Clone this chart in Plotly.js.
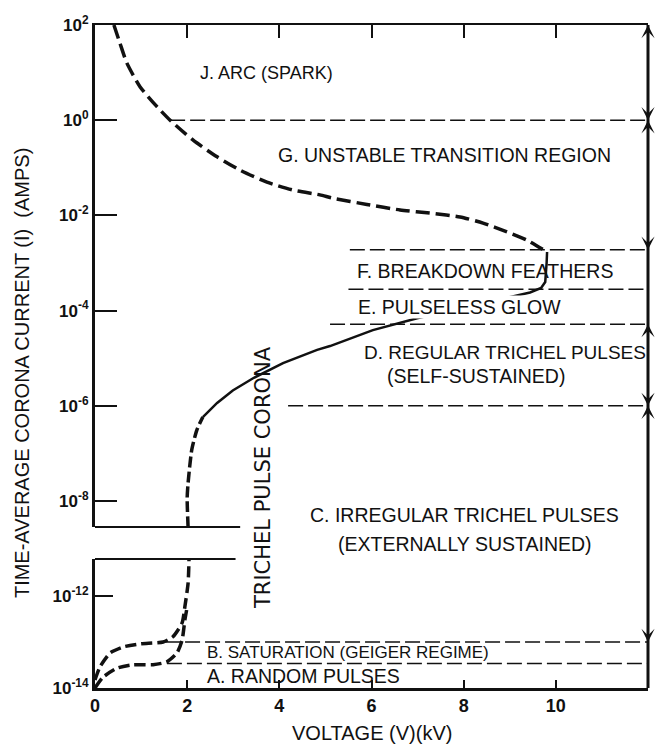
<!DOCTYPE html>
<html>
<head>
<meta charset="utf-8">
<script src="https://cdn.plot.ly/plotly-3.0.1.min.js"></script>
<style>html,body{margin:0;padding:0;background:#fff}#chart{width:658px;height:744px}</style>
</head>
<body>
<div id="chart"></div>
<script>
// ---------- data ----------
// Arc / unstable transition branch (upper dashed curve), kV vs A
const arcV = [0.41, 0.54, 0.69, 0.98, 1.35, 1.63, 2.13, 2.65, 3.15, 3.73, 4.30, 4.88, 5.16, 5.90, 6.62, 7.33, 7.92, 8.42, 8.94, 9.38, 9.81];
const arcI = [100, 42, 16, 5.0, 1.9, 1.0, 0.38, 0.17, 0.089, 0.050, 0.034, 0.027, 0.023, 0.017, 0.013, 0.011, 0.0093, 0.0069, 0.0045, 0.0030, 0.0017];
// Trichel onset rise near 2 kV (dashed, upper panel)
const riseV = [2.02, 2.00, 2.02, 2.10, 2.21, 2.34];
const riseI = [2.8e-9, 1.15e-8, 2.4e-8, 1.2e-7, 3.1e-7, 5.8e-7];
// Trichel / glow / feathers branch (solid)
const glowV = [2.34, 2.65, 2.99, 3.43, 4.08, 4.82, 5.10, 6.03, 6.99, 7.90, 8.72, 9.44, 9.68, 9.77, 9.80, 9.81];
const glowI = [5.8e-7, 1.15e-6, 2.1e-6, 3.8e-6, 7.9e-6, 1.5e-5, 1.8e-5, 3.9e-5, 6.9e-5, 1.1e-4, 1.7e-4, 2.4e-4, 3.0e-4, 4.0e-4, 1.0e-3, 1.7e-3];
// Saturation curve (lower panel, dashed)
const satV = [0.00, 0.11, 0.33, 0.61, 0.98, 1.48, 1.69, 1.89, 1.95, 2.02, 2.04];
const satI = [1.5e-14, 2.9e-14, 5.8e-14, 7.8e-14, 9.1e-14, 1.0e-13, 1.3e-13, 2.6e-13, 5.8e-13, 1.9e-12, 6.3e-12];
// Random pulses curve (lower panel, dashed)
const randV = [0.00, 0.17, 0.48, 0.82, 1.26, 1.56, 1.78, 1.89, 1.95, 2.00];
const randI = [1.0e-14, 1.7e-14, 2.7e-14, 3.2e-14, 3.2e-14, 3.7e-14, 5.8e-14, 1.1e-13, 3.0e-13, 5.8e-13];
// Region boundaries (current, A) and where each dashed boundary line starts (kV)
const upperBounds = [1.0, 1.9e-3, 2.8e-4, 5.2e-5, 1.0e-6];
const upperBoundStart = [1.63, 5.53, 5.50, 5.10, 4.19];
const lowerBounds = [1.0e-13, 3.4e-14];
const lowerBoundStart = [1.52, 1.56];
const vMax = 12;
// Tick values / labels
const xTicks = [0, 2, 4, 6, 8, 10, 12];
const upperTickVals = [1e2, 1e0, 1e-2, 1e-4, 1e-6, 1e-8];
const upperTickText = ['10<sup>2</sup>', '10<sup>0</sup>', '10<sup>-2</sup>', '10<sup>-4</sup>', '10<sup>-6</sup>', '10<sup>-8</sup>'];
const lowerTickVals = [1e-12, 1e-14];
const lowerTickText = ['10<sup>-12</sup>', '10<sup>-14</sup>'];
// Region labels
const regionLabels = ['J. ARC (SPARK)', 'G. UNSTABLE TRANSITION REGION', 'F. BREAKDOWN FEATHERS', 'E. PULSELESS GLOW',
  'D. REGULAR TRICHEL PULSES', '(SELF-SUSTAINED)', 'C. IRREGULAR TRICHEL PULSES', '(EXTERNALLY SUSTAINED)',
  'B. SATURATION (GEIGER REGIME)', 'A. RANDOM PULSES'];
// arrowheads along the right edge: [current, direction(+1 up, -1 down), panel]
const arrowMarks = [[1e2, 1, 'y'], [1e0, -1, 'y'], [1e0, 1, 'y'], [1.9e-3, -1, 'y'], [5.2e-5, 1, 'y'], [1e-6, -1, 'y'], [1e-6, 1, 'y'], [1e-13, -1, 'y2']];

// ---------- traces ----------
const ink = '#111';
const traces = [];
traces.push({x: arcV, y: arcI, xaxis: 'x2', yaxis: 'y', mode: 'lines', line: {color: ink, width: 3.5, dash: '14px,6px', shape: 'spline', smoothing: 0.6}, hoverinfo: 'skip'});
traces.push({x: riseV, y: riseI, xaxis: 'x2', yaxis: 'y', mode: 'lines', line: {color: ink, width: 3.5, dash: '11px,4px', shape: 'spline', smoothing: 0.6}, hoverinfo: 'skip'});
traces.push({x: glowV, y: glowI, xaxis: 'x2', yaxis: 'y', mode: 'lines', line: {color: ink, width: 2.5, shape: 'linear'}, hoverinfo: 'skip'});
traces.push({x: satV, y: satI, xaxis: 'x', yaxis: 'y2', mode: 'lines', line: {color: ink, width: 3.5, dash: '11px,5px', shape: 'spline', smoothing: 0.6}, hoverinfo: 'skip'});
traces.push({x: randV, y: randI, xaxis: 'x', yaxis: 'y2', mode: 'lines', line: {color: ink, width: 3.5, dash: '11px,5px', shape: 'spline', smoothing: 0.6}, hoverinfo: 'skip'});
upperBounds.forEach((b, i) => traces.push({x: [upperBoundStart[i], vMax], y: [b, b], xaxis: 'x2', yaxis: 'y', mode: 'lines', line: {color: ink, width: 1.5, dash: '15px,5px'}, hoverinfo: 'skip'}));
lowerBounds.forEach((b, i) => traces.push({x: [lowerBoundStart[i], vMax], y: [b, b], xaxis: 'x', yaxis: 'y2', mode: 'lines', line: {color: ink, width: 1.5, dash: '15px,5px'}, hoverinfo: 'skip'}));

// ---------- layout ----------
const FONT = 'Liberation Sans, Arial, sans-serif';
const labFont = {family: FONT, size: 19.5, color: ink};
function lab(i, x, y, xref, yref, extra) {
  return Object.assign({text: regionLabels[i], x: x, y: y, xref: xref, yref: yref, xanchor: 'left', yanchor: 'middle', showarrow: false, font: labFont}, extra || {});
}
const annotations = [
  lab(0, 2.24, 1, 'x2', 'y', {font: {family: FONT, size: 18, color: ink}}),
  lab(1, 3.93, -0.73, 'x2', 'y'),
  lab(2, 5.64, -3.17, 'x2', 'y'),
  lab(3, 5.69, -3.92, 'x2', 'y', {bgcolor: '#fff', borderpad: 0}),
  lab(4, 5.79, -4.87, 'x2', 'y', {font: {family: FONT, size: 19, color: ink}}),
  lab(5, 6.29, -5.37, 'x2', 'y'),
  lab(6, 4.62, -8.29, 'x2', 'y'),
  lab(7, 5.23, 0.217, 'x2', 'paper'),
  lab(8, 2.39, -13.22, 'x', 'y2', {font: {family: FONT, size: 17, color: ink}}),
  lab(9, 2.39, -13.74, 'x', 'y2'),
  {text: 'TRICHEL PULSE CORONA', x: 3.65, y: 0.317, xref: 'x', yref: 'paper', xanchor: 'center', yanchor: 'middle', textangle: -90, showarrow: false,
    font: {family: 'DejaVu Sans, sans-serif', size: 21, color: ink}},
  {text: 'TIME-AVERAGE CORONA CURRENT (I)  (AMPS)', x: -0.132, y: 0.475, xref: 'paper', yref: 'paper', xanchor: 'center', yanchor: 'middle', textangle: -90, showarrow: false,
    font: {family: FONT, size: 20, color: ink}},
  {text: 'VOLTAGE (V)(kV)', x: 0.5, y: -0.068, xref: 'paper', yref: 'paper', xanchor: 'center', yanchor: 'middle', showarrow: false, font: {family: FONT, size: 20, color: ink}}
];
arrowMarks.forEach(([v, dir, yr]) => {
  annotations.push({x: vMax, y: Math.log10(v), xref: yr === 'y' ? 'x2' : 'x', yref: yr, text: '', showarrow: true,
    ax: 0, ay: dir > 0 ? 20 : -20, arrowhead: 3, arrowsize: 1.1, arrowwidth: 2, arrowcolor: ink, standoff: 0});
});

const layout = {
  width: 658, height: 744,
  margin: {l: 95, r: 10, t: 25, b: 56},
  paper_bgcolor: '#fff', plot_bgcolor: 'rgba(0,0,0,0)',
  showlegend: false,
  font: {family: FONT, color: ink},
  xaxis: {domain: [0, 1], anchor: 'y2', range: [0, 12], tickvals: xTicks, ticks: 'inside', ticklen: 8, tickwidth: 2, tickcolor: ink,
    showline: true, linewidth: 2.5, linecolor: ink, showgrid: false, zeroline: false, tickfont: {family: FONT, size: 18, color: ink, weight: 'bold'}},
  xaxis2: {domain: [0, 1], anchor: 'y', side: 'top', matches: 'x', range: [0, 12], tickvals: xTicks, ticks: 'inside', ticklen: 13, tickwidth: 2, tickcolor: ink,
    showticklabels: false, showline: true, linewidth: 2, linecolor: ink, showgrid: false, zeroline: false},
  yaxis: {domain: [0.2428, 1], anchor: 'x2', type: 'log', range: [-8.546, 2], tickvals: upperTickVals, ticktext: upperTickText,
    ticks: 'inside', ticklen: 22, tickwidth: 2, tickcolor: ink, showline: true, linewidth: 3, linecolor: ink, showgrid: false, zeroline: false,
    tickfont: {family: FONT, size: 17, color: ink, weight: 'bold'}},
  yaxis2: {domain: [0, 0.1946], anchor: 'x', type: 'log', range: [-14, -11.196], tickvals: lowerTickVals, ticktext: lowerTickText,
    ticks: 'inside', ticklen: 18, tickwidth: 2, tickcolor: ink, showline: true, linewidth: 3, linecolor: ink, showgrid: false, zeroline: false,
    tickfont: {family: FONT, size: 17, color: ink, weight: 'bold'}},
  shapes: [
    {type: 'line', xref: 'paper', yref: 'paper', x0: 1, x1: 1, y0: 0, y1: 1, line: {color: ink, width: 3}},
    {type: 'line', xref: 'x2', yref: 'y domain', x0: 0, x1: 3.15, y0: 0, y1: 0, line: {color: ink, width: 2}},
    {type: 'line', xref: 'x', yref: 'y2 domain', x0: 0, x1: 3.05, y0: 1, y1: 1, line: {color: ink, width: 2}}
  ],
  annotations: annotations
};

Plotly.newPlot('chart', traces, layout, {staticPlot: true, displayModeBar: false});
</script>
</body>
</html>
